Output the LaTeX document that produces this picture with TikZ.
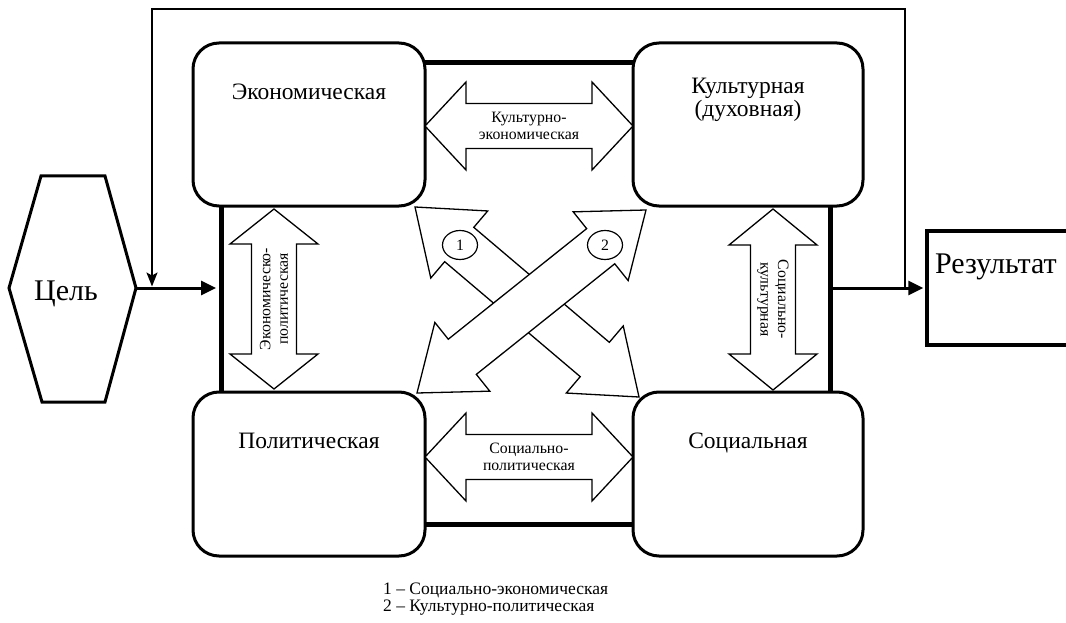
\documentclass[tikz,border=0pt]{standalone}
\usepackage{fontspec}
\setmainfont{Liberation Serif}
\usetikzlibrary{positioning,calc,arrows.meta,shapes.geometric}

\newcommand{\twoway}[3]{%
	\filldraw[twoarr] (#1) -- ($(#1)!#3!(#2)!44pt!90:(#2)$) -- ($(#1)!#3!(#2)!22.5pt!90:(#2)$)
		-- ($(#2)!#3!(#1)!22.5pt!-90:(#1)$) -- ($(#2)!#3!(#1)!44pt!-90:(#1)$) -- (#2)
		-- ($(#2)!#3!(#1)!44pt!90:(#1)$) -- ($(#2)!#3!(#1)!22.5pt!90:(#1)$)
		-- ($(#1)!#3!(#2)!22.5pt!-90:(#2)$) -- ($(#1)!#3!(#2)!44pt!-90:(#2)$) -- cycle;}

\begin{document}
\begin{tikzpicture}[x=1pt,y=-1pt,
		box/.style={draw,line width=3pt,fill=white,rounded corners=26pt,minimum width=232pt,minimum height=163pt},
		boxtext/.style={font=\fontsize{23.5}{26}\selectfont,inner sep=0pt,anchor=base},
		twoarr/.style={draw,fill=white,line width=1.3pt},
		lbl/.style={font=\fontsize{15.8}{17.5}\selectfont,inner sep=0pt,align=center},
		bigtext/.style={font=\fontsize{30}{34}\selectfont,inner sep=0pt},
		flow/.style={line width=3pt,-{Triangle[length=15pt,width=14pt]}},
		keytext/.style={font=\fontsize{17.5}{20}\selectfont,inner sep=0pt,anchor=base west}]
		\useasboundingbox (0,0) rectangle (1066,623);
		\clip (0,0) rectangle (1066,623);
		\node[draw,line width=5pt,minimum width=609pt,minimum height=461pt,inner sep=0pt] (frame) at (525.5,293.5) {};
		\node[box] (eco) at (309,124.5) {};
		\node[box,minimum width=230pt] (cult) at (748,124.5) {};
		\node[box,minimum height=164pt] (pol) at (309,474) {};
		\node[box,minimum width=230pt,minimum height=164pt] (soc) at (748,474) {};
		\node[boxtext] at (309,100) {Экономическая};
		\node[boxtext] at (748,94) {Культурная};
		\node[boxtext] at (748,116.5) {(духовная)};
		\node[boxtext] at (309,448) {Политическая};
		\node[boxtext] at (748,448) {Социальная};
		\coordinate (ec) at (425,126);
		\coordinate (ce) at (633,126);
		\coordinate (ps) at (425,457);
		\coordinate (sp) at (633,457);
		\coordinate (ep) at (274,209);
		\coordinate (pe) at (274,389);
		\coordinate (cs) at (773,209);
		\coordinate (sc) at (773,390);
		\twoway{ec}{ce}{41pt}
		\twoway{ps}{sp}{41pt}
		\twoway{ep}{pe}{35pt}
		\twoway{cs}{sc}{36pt}
		\node[lbl] at ($(ec)!.5!(ce)$) {Культурно-\\экономическая};
		\node[lbl] at ($(ps)!.5!(sp)$) {Социально-\\политическая};
		\node[lbl,rotate=90] at ($(ep)!.5!(pe)$) {Экономическо-\\политическая};
		\node[lbl,rotate=-90] at ($(cs)!.5!(sc)$) {Социально-\\культурная};
		\coordinate (se1) at (415,207);
		\coordinate (se2) at (639,397);
		\coordinate (cp1) at (417,393);
		\coordinate (cp2) at (646,210);
		\twoway{se1}{se2}{58pt}
		\twoway{cp1}{cp2}{58pt}
		\node[draw,ellipse,line width=1.2pt,fill=white,minimum width=35pt,minimum height=29pt,inner sep=0pt,font=\fontsize{15.8}{17}\selectfont] (one) at (460,245) {1};
		\node[draw,ellipse,line width=1.2pt,fill=white,minimum width=35pt,minimum height=29pt,inner sep=0pt,font=\fontsize{15.8}{17}\selectfont] (two) at (605,245) {2};
		\draw[line width=3pt] (9,288) -- (41,176) -- (105,176) -- (136,288) coordinate (goalR) -- (105,402) -- (42,402) -- cycle;
		\node[bigtext,anchor=base] (goal) at (66,300) {Цель};
		\node[draw,line width=3.5pt,minimum width=160pt,minimum height=114pt,anchor=north west] (res) at (925,229) {};
		\node[bigtext,anchor=base west] (restext) at (935,273) {Результат};
		\coordinate (fbin) at (152,288);
		\coordinate (fbout) at (905,288);
		\draw[flow,shorten >=2.5pt] (goalR) -- (goalR -| frame.west);
		\draw[flow,shorten >=1.75pt] (frame.east |- fbout) -- (res.west |- fbout);
		\draw[line width=1.5pt,shorten >=1.5pt,-{Stealth[length=14pt,width=11pt,inset=3pt]}] (fbout) -- (905,9) -| (fbin);
		\node[keytext] (key1) at (383,594) {1 – Социально-экономическая};
		\node[keytext] (key2) at (383,611) {2 – Культурно-политическая};
	\end{tikzpicture}
\end{document}
